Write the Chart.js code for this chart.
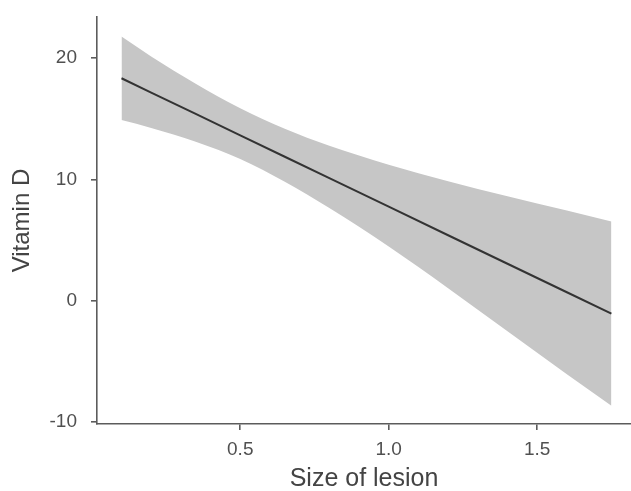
<!DOCTYPE html>
<html>
<head>
<meta charset="utf-8">
<script src="https://cdn.jsdelivr.net/npm/chart.js@4"></script>
<style>
  html, body { margin: 0; padding: 0; background: #fff; }
  #wrap { width: 631px; height: 491px; }
</style>
</head>
<body>
<div id="wrap"><canvas id="chart"></canvas></div>
<script>
'use strict'

// **** DATA ****
let lesionSize = [0.1, 0.2, 0.35, 0.5, 0.65, 0.8, 1.0, 1.2, 1.4, 1.6, 1.75];
let fitValues = [18.35, 17.17, 15.41, 13.65, 11.88, 10.12, 7.77, 5.41, 3.06, 0.71, -1.05];
let upperValues = [21.8, 20.15, 17.9, 15.88, 14.18, 12.78, 11.22, 9.86, 8.62, 7.44, 6.55];
let lowerValues = [14.9, 14.25, 13.12, 11.7, 9.82, 7.65, 4.49, 1.05, -2.5, -6.05, -8.65];
let xTicks = [0.5, 1.0, 1.5];
let yTicks = [-10, 0, 10, 20];

// **** HELPERS ****
function toPoints(values) {
  let points = [];
  for (let i = 0; i < lesionSize.length; i++) {
    points.push({ x: lesionSize[i], y: values[i] });
  }
  return points;
}

const axisColor = '#5c5c5c';
const textColor = '#505050';
const fontFamily = '"Liberation Sans", Arial, sans-serif';

const data = {
  datasets: [{
    label: 'Fit',
    data: toPoints(fitValues),
    borderColor: '#333333',
    borderWidth: 2,
    pointRadius: 0,
    fill: false,
    order: 0
  },
  {
    label: 'Upper',
    data: toPoints(upperValues),
    borderWidth: 0,
    borderColor: 'rgba(0,0,0,0)',
    backgroundColor: '#c6c6c6',
    pointRadius: 0,
    cubicInterpolationMode: 'monotone',
    fill: '+1',
    order: 1
  },
  {
    label: 'Lower',
    data: toPoints(lowerValues),
    borderWidth: 0,
    borderColor: 'rgba(0,0,0,0)',
    pointRadius: 0,
    cubicInterpolationMode: 'monotone',
    fill: false,
    order: 2
  }]
};

const config = {
  type: 'line',
  data: data,
  options: {
    responsive: true,
    maintainAspectRatio: false,
    animation: false,
    layout: { padding: { top: 17, right: 0, bottom: 0, left: 0 } },
    plugins: {
      legend: { display: false },
      tooltip: { enabled: false }
    },
    scales: {
      x: {
        type: 'linear',
        min: 0.0175,
        max: 1.816,
        afterBuildTicks: (scale) => { scale.ticks = xTicks.map(v => ({ value: v })); },
        afterFit: (scale) => { scale.height = 67; scale.paddingLeft = 0; scale.paddingRight = 0; },
        border: { display: true, color: axisColor, width: 1.6 },
        grid: { drawOnChartArea: false, drawTicks: true, tickLength: 6, color: axisColor, lineWidth: 1.6 },
        ticks: {
          padding: 8,
          color: textColor,
          font: { family: fontFamily, size: 19 },
          callback: (v) => v.toFixed(1),
          maxRotation: 0
        },
        title: {
          display: true,
          text: 'Size of lesion',
          color: '#444444',
          font: { family: fontFamily, size: 25, lineHeight: 1 },
          padding: { top: 0, bottom: -1 }
        }
      },
      y: {
        type: 'linear',
        min: -10.15,
        max: 23.4,
        afterBuildTicks: (scale) => { scale.ticks = yTicks.map(v => ({ value: v })); },
        afterFit: (scale) => { scale.width = 97; scale.paddingTop = 0; scale.paddingBottom = 0; },
        border: { display: true, color: axisColor, width: 1.6 },
        grid: { drawOnChartArea: false, drawTicks: true, tickLength: 6, color: axisColor, lineWidth: 1.6 },
        ticks: {
          padding: 14,
          color: textColor,
          font: { family: fontFamily, size: 19 }
        },
        title: {
          display: true,
          text: 'Vitamin D',
          color: '#444444',
          font: { family: fontFamily, size: 24, lineHeight: 1 },
          padding: { top: 10, bottom: 0 }
        }
      }
    }
  }
};

const ctx = document.getElementById('chart');
const vitaminChart = new Chart(ctx, config);
</script>
</body>
</html>
